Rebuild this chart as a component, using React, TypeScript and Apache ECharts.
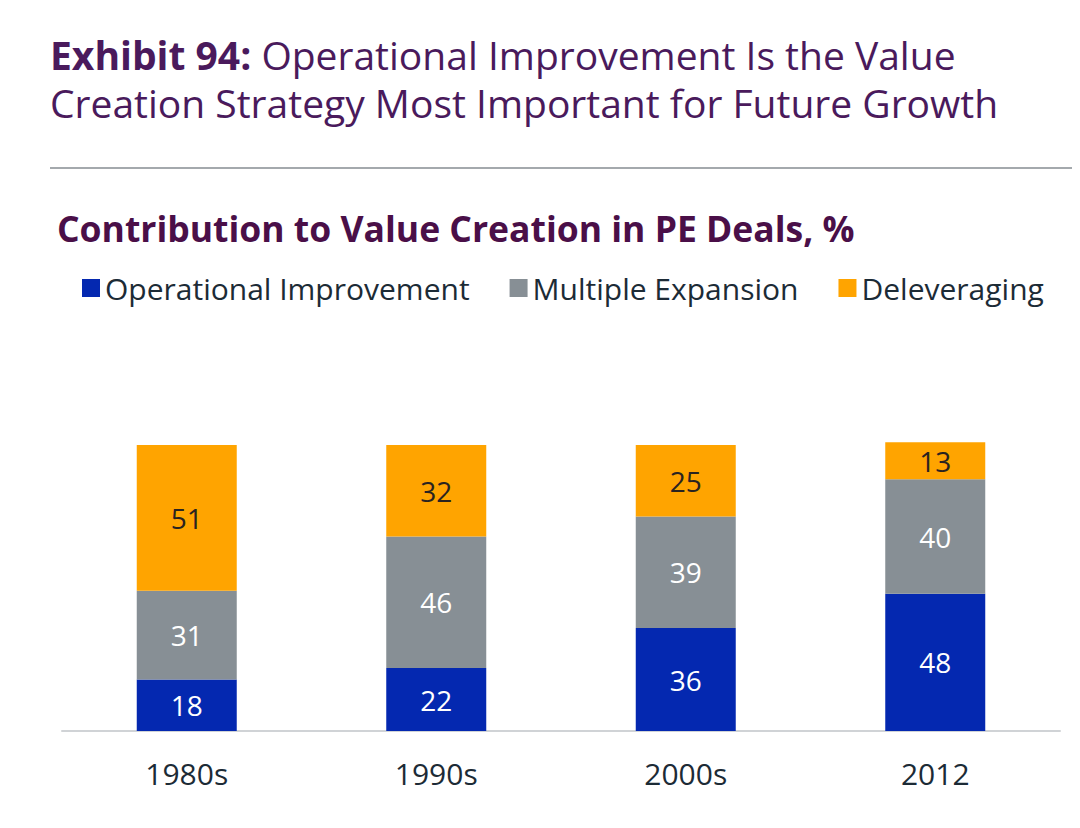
import React, { useEffect, useRef } from "react";
import * as echarts from "echarts";

const categories = ["1980s", "1990s", "2000s", "2012"];
const operational = [18, 22, 36, 48];
const multiple = [31, 46, 39, 40];
const deleveraging = [51, 32, 25, 13];
const seriesNames = ["Operational Improvement", "Multiple Expansion", "Deleveraging"];

const FONT = "'Open Sans', sans-serif";

export default function App() {
  const ref = useRef<HTMLDivElement>(null);
  useEffect(() => {
    document.body.style.margin = "0";
    const chart = echarts.init(ref.current!, null, { renderer: "svg" });
    const label = (color: string) => ({
      show: true,
      position: "inside",
      color,
      fontSize: 28,
      fontFamily: FONT,
    });
    chart.setOption({
      animation: false,
      backgroundColor: "#ffffff",
      textStyle: { fontFamily: FONT },
      graphic: [
        {
          type: "text",
          left: 50,
          top: 30,
          style: {
            text: "{b|Exhibit 94:} Operational Improvement Is the Value\nCreation Strategy Most Important for Future Growth",
            fontFamily: FONT,
            fontSize: 39,
            lineHeight: 48,
            fill: "#4a1a5c",
            rich: {
              b: { fontWeight: "bold", fontSize: 39, fill: "#4a1a5c", fontFamily: FONT, lineHeight: 48 },
            },
          },
        },
        {
          type: "line",
          shape: { x1: 50, y1: 168, x2: 1072, y2: 168 },
          style: { stroke: "#a4a9ad", lineWidth: 2 },
        },
        {
          type: "text",
          left: 57,
          top: 210,
          style: {
            text: "Contribution to Value Creation in PE Deals, %",
            fontFamily: FONT,
            fontWeight: "bold",
            fontSize: 35.5,
            fill: "#4a0f48",
          },
        },
      ],
      legend: {
        left: 77,
        top: 268,
        itemWidth: 18,
        itemHeight: 18,
        itemGap: 40,
        icon: "rect",
        textStyle: { fontSize: 30, color: "#1c2b36", fontFamily: FONT, padding: [0, 0, 0, 0] },
        data: seriesNames,
      },
      grid: { left: 62, right: 20, top: 445, bottom: 97 },
      xAxis: {
        type: "category",
        data: categories,
        axisLine: { lineStyle: { color: "#d0d3d6", width: 2 } },
        axisTick: { show: false },
        axisLabel: { fontSize: 30, color: "#1c2b36", margin: 27, fontFamily: FONT },
      },
      yAxis: {
        type: "value",
        min: 0,
        max: 100,
        show: false,
        splitLine: { show: false },
      },
      series: [
        {
          name: seriesNames[0],
          type: "bar",
          stack: "total",
          data: operational,
          barWidth: 100,
          clip: false,
          itemStyle: { color: "#0428b0" },
          label: label("#ffffff"),
        },
        {
          name: seriesNames[1],
          type: "bar",
          stack: "total",
          data: multiple,
          barWidth: 100,
          clip: false,
          itemStyle: { color: "#878f95" },
          label: label("#ffffff"),
        },
        {
          name: seriesNames[2],
          type: "bar",
          stack: "total",
          data: deleveraging,
          barWidth: 100,
          clip: false,
          itemStyle: { color: "#ffa400" },
          label: label("#2a2320"),
        },
      ],
    });
    return () => chart.dispose();
  }, []);
  return <div ref={ref} style={{ width: 1080, height: 828 }} />;
}
